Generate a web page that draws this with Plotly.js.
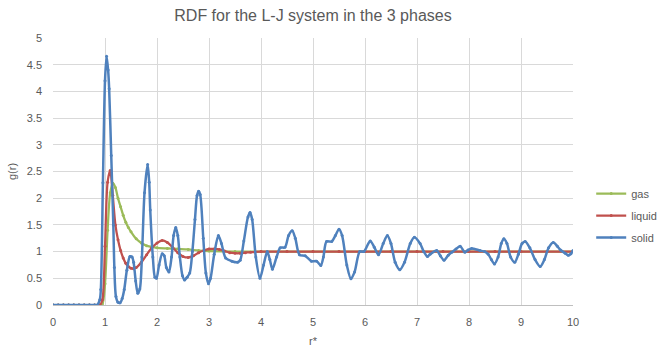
<!DOCTYPE html>
<html>
<head>
<meta charset="utf-8">
<script src="https://cdn.plot.ly/plotly-3.0.1.min.js"></script>
<style>html,body{margin:0;padding:0;background:#fff;}#chart{width:662px;height:353px;}</style>
</head>
<body>
<div id="chart"></div>
<script>
const gasR = [0,0.1,0.2,0.3,0.4,0.5,0.6,0.7,0.8,0.9,0.95,1.0,1.05,1.1,1.15,1.2,1.25,1.3,1.35,1.4,1.45,1.5,1.6,1.7,1.8,1.9,2.0,2.2,2.4,2.6,2.8,3.0,3.5,4,4.5,5,5.5,6,6.5,7,7.5,8,8.5,9,9.5,10];
const gasG = [0,0,0,0,0,0,0,0,0,0,0.02,0.4,1.4,2.1,2.28,2.2,2.0,1.84,1.68,1.55,1.45,1.37,1.24,1.16,1.11,1.09,1.07,1.06,1.05,1.04,1.02,1.01,1.0,1.0,1.0,1.0,1.0,1.0,1.0,1.0,1.0,1.0,1.0,1.0,1.0,1.0];

const liquidR = [0,0.1,0.2,0.3,0.4,0.5,0.6,0.7,0.8,0.9,0.95,1.0,1.05,1.1,1.15,1.2,1.25,1.3,1.35,1.4,1.45,1.5,1.55,1.6,1.7,1.8,1.9,2.0,2.1,2.2,2.3,2.4,2.5,2.6,2.7,2.8,2.9,3.0,3.1,3.2,3.3,3.4,3.5,3.6,3.7,3.8,4.0,4.5,5,5.5,6,6.5,7,7.5,8,8.5,9,9.5,10];
const liquidG = [0,0,0,0,0,0,0,0,0,0,0.1,1.1,2.3,2.52,2.05,1.5,1.22,1.02,0.88,0.78,0.72,0.69,0.68,0.7,0.8,0.94,1.07,1.16,1.21,1.17,1.08,0.98,0.91,0.89,0.92,0.98,1.02,1.05,1.05,1.04,1.01,0.98,0.97,0.97,0.98,0.99,1.0,1.0,1.0,1.0,1.0,1.0,1.0,1.0,1.0,1.0,1.0,1.0,1.0];

const solidR = [0,0.1,0.2,0.3,0.4,0.5,0.6,0.7,0.8,0.85,0.9,0.92,0.96,1.0,1.03,1.06,1.08,1.12,1.16,1.18,1.21,1.25,1.29,1.33,1.37,1.42,1.48,1.52,1.55,1.59,1.63,1.67,1.71,1.76,1.82,1.85,1.87,1.92,1.96,1.99,2.04,2.1,2.14,2.18,2.23,2.28,2.32,2.36,2.4,2.44,2.49,2.53,2.58,2.63,2.68,2.73,2.77,2.8,2.83,2.89,2.94,2.99,3.03,3.1,3.18,3.24,3.32,3.44,3.55,3.6,3.67,3.75,3.79,3.83,3.9,3.98,4.05,4.12,4.17,4.22,4.3,4.37,4.46,4.53,4.6,4.66,4.74,4.85,4.97,5.07,5.15,5.2,5.26,5.36,5.43,5.5,5.56,5.65,5.73,5.8,5.9,5.98,6.1,6.18,6.26,6.35,6.43,6.5,6.58,6.67,6.76,6.87,6.95,7.06,7.13,7.2,7.25,7.38,7.45,7.52,7.6,7.67,7.75,7.83,7.92,7.98,8.05,8.21,8.3,8.37,8.43,8.49,8.56,8.62,8.67,8.73,8.8,8.88,8.95,9.02,9.08,9.17,9.27,9.37,9.45,9.53,9.62,9.7,9.76,9.85,9.91,9.96,10.0];
const solidG = [0,0,0,0,0,0,0,0,0,0,0.1,0.29,2.29,4.2,4.66,4.4,4.05,2.8,1.5,0.7,0.16,0.05,0.04,0.12,0.29,0.65,0.91,0.9,0.8,0.45,0.22,0.3,0.9,2.1,2.63,2.3,1.78,0.9,0.52,0.5,0.75,0.96,0.92,0.7,0.62,0.9,1.3,1.45,1.3,0.9,0.55,0.47,0.52,0.6,1.0,1.6,2.05,2.13,2.07,1.25,0.6,0.4,0.5,0.95,1.3,1.15,0.88,0.82,0.8,0.84,1.2,1.65,1.73,1.6,0.9,0.5,0.75,1.0,0.85,0.67,0.9,1.07,1.08,1.3,1.39,1.25,0.94,0.92,0.82,0.82,0.74,0.9,1.19,1.19,1.3,1.42,1.3,0.75,0.49,0.62,1.0,1.0,1.2,1.08,0.94,1.15,1.3,1.15,0.8,0.66,0.8,1.15,1.27,1.15,1.0,0.91,0.95,1.02,0.92,0.84,0.93,0.99,1.05,1.1,0.99,1.03,1.06,1.02,1.0,0.95,0.85,0.77,0.9,1.15,1.24,1.15,0.9,0.8,0.95,1.15,1.19,1.07,0.85,0.72,0.85,1.07,1.17,1.1,1.03,0.97,0.93,0.96,1.02];

const seriesNames = ['gas','liquid','solid'];
const colors = ['#9BBB59','#C0504D','#4F81BD'];
const xs = [gasR, liquidR, solidR];
const ys = [gasG, liquidG, solidG];
const widths = [2.25, 2.25, 2.5];

const traces = seriesNames.map((n,i)=>({
  x: xs[i], y: ys[i], name: n, type: 'scatter', mode: 'lines+markers',
  line: {color: colors[i], width: widths[i], shape: 'spline', smoothing: 0.8},
  marker: {color: colors[i], size: 3},
  legendgroup: n
}));

const grey = '#595959';
const layout = {
  width: 662, height: 353,
  margin: {l: 53, r: 89, t: 38, b: 48, autoexpand: false},
  paper_bgcolor: '#fff', plot_bgcolor: '#fff',
  font: {family: 'Liberation Sans, Arial, sans-serif', color: grey, size: 11},
  title: {text: 'RDF for the L-J system in the 3 phases', x: 0.5, xref: 'paper', xanchor: 'center', y: 0.955, yanchor: 'middle',
          font: {size: 16, color: grey, family: 'Liberation Sans, Arial, sans-serif'}},
  xaxis: {range: [0, 10], dtick: 1, tick0: 0, showgrid: true, gridcolor: '#D9D9D9', gridwidth: 1,
          zeroline: false, showline: true, linecolor: '#BFBFBF', linewidth: 1,
          ticks: '', ticklabelstandoff: 7, tickfont: {size: 11, color: grey},
          title: {text: 'r*', font: {size: 11, color: grey}, standoff: 10}},
  yaxis: {range: [0, 5], dtick: 0.5, tick0: 0, showgrid: true, gridcolor: '#D9D9D9', gridwidth: 1,
          zeroline: false, showline: false, ticks: '', ticklabelstandoff: 10,
          tickfont: {size: 11, color: grey},
          title: {text: 'g(r)', font: {size: 11, color: grey}, standoff: 7}},
  showlegend: true,
  legend: {x: 1.035, xanchor: 'left', y: 0.335, yanchor: 'middle', xref: 'paper', yref: 'paper',
           font: {size: 11, color: grey}, bgcolor: 'rgba(0,0,0,0)', tracegroupgap: 3, itemwidth: 30}
};

Plotly.newPlot('chart', traces, layout, {displayModeBar: false, staticPlot: true});
</script>
</body>
</html>
